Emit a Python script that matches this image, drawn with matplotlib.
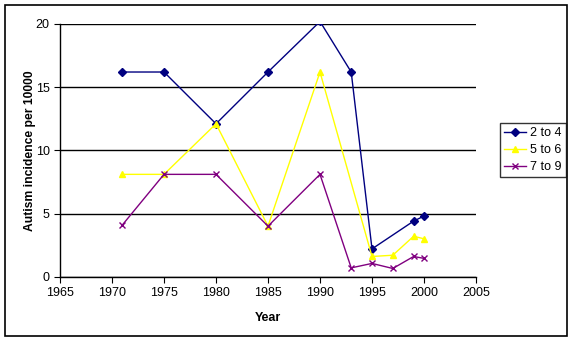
import matplotlib.pyplot as plt
from matplotlib.patches import Rectangle

plt.rcParams['font.family'] = ['Liberation Sans', 'DejaVu Sans']

# -----------------------------
# Data
# -----------------------------
years_2to4 = [1971, 1975, 1980, 1985, 1990, 1993, 1995, 1999, 2000]
vals_2to4 = [16.2, 16.2, 12.1, 16.2, 20.2, 16.2, 2.2, 4.4, 4.8]

years_5to6 = [1971, 1975, 1980, 1985, 1990, 1995, 1997, 1999, 2000]
vals_5to6 = [8.1, 8.1, 12.1, 4.0, 16.2, 1.6, 1.7, 3.2, 3.0]

years_7to9 = [1971, 1975, 1980, 1985, 1990, 1993, 1995, 1997, 1999, 2000]
vals_7to9 = [4.1, 8.1, 8.1, 4.0, 8.1, 0.7, 1.05, 0.65, 1.6, 1.45]

x_ticks = [1965, 1970, 1975, 1980, 1985, 1990, 1995, 2000, 2005]
y_ticks = [0, 5, 10, 15, 20]

# -----------------------------
# Figure
# -----------------------------
fig = plt.figure(figsize=(5.76, 3.42), dpi=100)
ax = fig.add_axes([60 / 576, 1 - 276.7 / 342, 416 / 576, 252.7 / 342])

# outer chart border
fig.patches.append(Rectangle((5 / 576, 1 - 336 / 342), 562 / 576, 331 / 342,
                             transform=fig.transFigure, fill=False,
                             edgecolor='black', linewidth=1.2))

ax.plot(years_2to4, vals_2to4, color='#000080', marker='D', markersize=4,
        linewidth=1, label='2 to 4')
ax.plot(years_5to6, vals_5to6, color='#FFFF00', marker='^', markersize=5,
        linewidth=1, label='5 to 6')
ax.plot(years_7to9, vals_7to9, color='#800080', marker='x', markersize=4,
        markeredgewidth=1, linewidth=1, label='7 to 9')

ax.set_xlim(1965, 2005)
ax.set_ylim(0, 20)
ax.set_xticks(x_ticks)
ax.set_yticks(y_ticks)
ax.yaxis.grid(True, color='black', linewidth=1)
ax.set_axisbelow(True)

for side in ['top', 'right']:
    ax.spines[side].set_visible(False)
for side in ['left', 'bottom']:
    ax.spines[side].set_color('black')
    ax.spines[side].set_linewidth(1)

ax.tick_params(direction='out', length=4, labelsize=9, colors='black')
ax.set_xlabel("Year", fontsize=9, fontweight='bold', labelpad=9)
ax.set_ylabel("Autism incidence per 10000", fontsize=8.7, fontweight='bold',
              labelpad=0)

handles, labels = ax.get_legend_handles_labels()
leg = fig.legend(handles, labels, loc='center right',
                 bbox_to_anchor=(566 / 576, 1 - 150 / 342),
                 bbox_transform=fig.transFigure, fontsize=9,
                 frameon=True, fancybox=False, edgecolor='black',
                 handlelength=1.8, handletextpad=0.3, borderpad=0.35,
                 labelspacing=0.4, borderaxespad=0)
leg.get_frame().set_linewidth(1)

fig.savefig("out.png", dpi=100)
plt.close()
